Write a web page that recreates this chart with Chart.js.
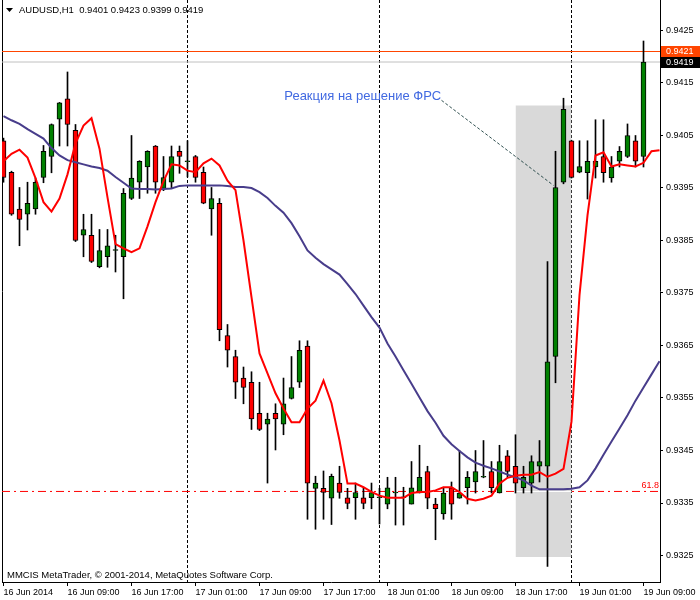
<!DOCTYPE html>
<html><head><meta charset="utf-8">
<script src="https://cdn.jsdelivr.net/npm/chart.js@4/dist/chart.umd.min.js"></script>
<style>html,body{margin:0;padding:0;background:#fff}#wrap{width:700px;height:600px;position:relative}</style>
</head><body><div id="wrap"><canvas id="c" width="700" height="600"></canvas></div>
<script>
// ---- data (AUDUSD H1, 16 Jun 2014 01:00 .. 19 Jun 2014 09:00) ----
const openP  = [0.94040,0.93980,0.93910,0.93900,0.93910,0.93970,0.94010,0.94081,0.94120,0.94060,
  0.93860,0.93860,0.93800,0.93819,0.93831,0.93819,0.93930,0.93961,0.93990,0.94030,
  0.93949,0.93961,0.94020,0.94000,0.94010,0.93980,0.93910,0.93921,0.93669,0.93629,
  0.93588,0.93580,0.93521,0.93500,0.93521,0.93500,0.93549,0.93580,0.93649,0.93378,
  0.93378,0.93359,0.93388,0.93360,0.93360,0.93360,0.93360,0.93360,0.93348,0.93369,
  0.93360,0.93348,0.93369,0.93410,0.93348,0.93329,0.93379,0.93359,0.93379,0.93390,
  0.93399,0.93410,0.93369,0.93440,0.93420,0.93379,0.93388,0.93420,0.93420,0.93629,
  0.93961,0.94040,0.93980,0.93979,0.93990,0.94010,0.93969,0.94001,0.94010,0.94040,0.94010];
const highP  = [0.94045,0.93982,0.93951,0.93961,0.93969,0.94031,0.94072,0.94113,0.94171,0.94071,
  0.93900,0.93900,0.93871,0.93871,0.93860,0.93949,0.94050,0.94002,0.94021,0.94031,
  0.94010,0.94030,0.94030,0.94040,0.94012,0.93990,0.93951,0.93930,0.93690,0.93641,
  0.93609,0.93600,0.93580,0.93521,0.93539,0.93588,0.93629,0.93659,0.93659,0.93401,
  0.93411,0.93405,0.93420,0.93378,0.93388,0.93378,0.93388,0.93378,0.93399,0.93399,
  0.93380,0.93429,0.93460,0.93420,0.93359,0.93380,0.93390,0.93450,0.93410,0.93450,
  0.93469,0.93429,0.93460,0.93450,0.93480,0.93420,0.93440,0.93469,0.93810,0.94020,
  0.94121,0.94041,0.94040,0.94040,0.94080,0.94080,0.94010,0.94029,0.94072,0.94050,0.94230];
const lowP   = [0.93961,0.93898,0.93840,0.93870,0.93900,0.93960,0.93979,0.94030,0.94030,0.93848,
  0.93819,0.93808,0.93798,0.93799,0.93790,0.93739,0.93928,0.93930,0.93940,0.93940,
  0.93945,0.93949,0.93978,0.93971,0.93961,0.93920,0.93860,0.93659,0.93609,0.93549,
  0.93539,0.93490,0.93488,0.93388,0.93451,0.93480,0.93548,0.93570,0.93319,0.93300,
  0.93319,0.93309,0.93359,0.93339,0.93319,0.93339,0.93339,0.93310,0.93339,0.93308,
  0.93308,0.93348,0.93369,0.93339,0.93280,0.93319,0.93319,0.93359,0.93348,0.93369,
  0.93398,0.93369,0.93369,0.93399,0.93369,0.93369,0.93369,0.93390,0.93229,0.93579,
  0.93958,0.93969,0.93979,0.93929,0.93969,0.93961,0.93961,0.93990,0.94008,0.93990,0.93990];
const closeP = [0.93970,0.93900,0.93890,0.93921,0.93961,0.94020,0.94071,0.94112,0.94071,0.93850,
  0.93871,0.93810,0.93831,0.93840,0.93832,0.93940,0.93969,0.94001,0.94020,0.93961,
  0.93970,0.94010,0.94010,0.94001,0.93970,0.93921,0.93930,0.93680,0.93641,0.93580,
  0.93570,0.93510,0.93490,0.93510,0.93510,0.93539,0.93570,0.93641,0.93388,0.93388,
  0.93370,0.93401,0.93370,0.93349,0.93370,0.93349,0.93370,0.93361,0.93379,0.93370,
  0.93361,0.93379,0.93399,0.93359,0.93339,0.93369,0.93348,0.93369,0.93399,0.93410,
  0.93400,0.93379,0.93429,0.93410,0.93388,0.93399,0.93429,0.93429,0.93619,0.93951,
  0.94100,0.93970,0.93991,0.94001,0.94001,0.93979,0.93990,0.94020,0.94050,0.94001,0.94190];
// moving averages (drawn with a 2-bar forward shift, so 83 points)
const redMA  = [0.94001,0.94015,0.94023,0.94008,0.93969,0.93923,0.93905,0.93930,0.93976,0.94035,
  0.94069,0.94083,0.94025,0.93932,0.93843,0.93835,0.93828,0.93835,0.93877,0.93923,
  0.93963,0.93995,0.93993,0.93983,0.93980,0.93997,0.94006,0.93993,0.93964,0.93946,
  0.93850,0.93742,0.93635,0.93597,0.93559,0.93530,0.93504,0.93504,0.93530,0.93545,
  0.93583,0.93540,0.93469,0.93387,0.93387,0.93380,0.93371,0.93364,0.93360,0.93360,
  0.93360,0.93369,0.93371,0.93371,0.93374,0.93380,0.93380,0.93371,0.93358,0.93355,
  0.93358,0.93364,0.93387,0.93398,0.93402,0.93404,0.93404,0.93409,0.93400,0.93406,
  0.93415,0.93505,0.93746,0.93898,0.94012,0.94018,0.93991,0.93995,0.93993,0.93991,
  0.93998,0.94020,0.94022];
const blueMA = [0.94087,0.94079,0.94072,0.94062,0.94053,0.94044,0.94026,0.94012,0.94003,0.93999,
  0.93995,0.93991,0.93988,0.93983,0.93971,0.93960,0.93949,0.93948,0.93948,0.93947,
  0.93948,0.93949,0.93954,0.93955,0.93955,0.93955,0.93955,0.93955,0.93954,0.93952,
  0.93952,0.93950,0.93942,0.93931,0.93916,0.93903,0.93883,0.93858,0.93831,0.93817,
  0.93805,0.93795,0.93785,0.93767,0.93748,0.93726,0.93704,0.93684,0.93654,0.93629,
  0.93603,0.93577,0.93551,0.93525,0.93503,0.93478,0.93462,0.93449,0.93437,0.93427,
  0.93421,0.93416,0.93410,0.93404,0.93399,0.93393,0.93383,0.93376,0.93376,0.93376,
  0.93376,0.93377,0.93380,0.93393,0.93416,0.93442,0.93467,0.93492,0.93517,0.93545,
  0.93570,0.93595,0.93620];
const xTickIndex  = [0,8,16,24,32,40,48,56,64,72,80];
const xTickLabels = ['16 Jun 2014','16 Jun 09:00','16 Jun 17:00','17 Jun 01:00','17 Jun 09:00','17 Jun 17:00',
  '18 Jun 01:00','18 Jun 09:00','18 Jun 17:00','19 Jun 01:00','19 Jun 09:00'];
const yTickValues = [0.9325,0.9335,0.9345,0.9355,0.9365,0.9375,0.9385,0.9395,0.9405,0.9415,0.9425];
const daySeparators = [23,47,71];
const askPrice = 0.9421, bidPrice = 0.9419;
const fiboLevel = 0.93372, fiboLabel = '61.8';
const zoneX = [64,71], zoneY = [0.93247,0.94107];
const noteText = 'Реакция на решение ФРС';
const notePos = [35.1, 0.94124];
const noteLineX = [54.75,68.75], noteLineY = [0.94117,0.93955];
const titleText = 'AUDUSD,H1  0.9401 0.9423 0.9399 0.9419';
const copyrightText = 'MMCIS MetaTrader, \u00A9 2001-2014, MetaQuotes Software Corp.';

// ---- scale setup ----
const PX_PER_UNIT = 52500; // px per price unit at this layout
const yMax = 0.9425 + 30.5 / PX_PER_UNIT;
const yMin = yMax - 582 / PX_PER_UNIT;
const xMin = -0.1875, xMax = xMin + 82.25;

const idx = openP.map((_, i) => i);
const wicks = idx.map(i => ({x: i, y: [lowP[i], highP[i]]}));
const bodies = idx.map(i => ({x: i, y: [Math.min(openP[i], closeP[i]), Math.max(openP[i], closeP[i])]}));
const bodyColors = idx.map(i => closeP[i] >= openP[i] ? '#008000' : '#ff0000');
const maPts = arr => arr.map((v, i) => ({x: i, y: v}));
const hLine = v => [{x: xMin, y: v}, {x: xMax, y: v}];

const FONT = "'Liberation Sans', Arial, sans-serif";
const lineBase = {type: 'line', pointRadius: 0, borderWidth: 1, tension: 0, fill: false, yAxisID: 'y'};

const datasets = [];
daySeparators.forEach(s => datasets.push(Object.assign({}, lineBase, {
  data: [{x: s, y: yMax}, {x: s, y: yMin}], borderColor: '#000', borderDash: [3, 2], order: 20})));
datasets.push(Object.assign({}, lineBase, {data: hLine(fiboLevel), borderColor: '#ff0000', borderDash: [8, 4, 2, 4], order: 19}));
datasets.push(Object.assign({}, lineBase, {data: [{x: zoneX[0], y: zoneY[1]}, {x: zoneX[1], y: zoneY[1]}],
  borderWidth: 0, borderColor: 'rgba(0,0,0,0)', backgroundColor: '#d9d9d9', fill: {value: zoneY[0]}, order: 18}));
datasets.push(Object.assign({}, lineBase, {data: [{x: zoneX[0], y: fiboLevel}, {x: zoneX[1], y: fiboLevel}], borderColor: '#ffffff', order: 17}));
datasets.push(Object.assign({}, lineBase, {data: hLine(askPrice), borderColor: '#ff4500', order: 16}));
datasets.push(Object.assign({}, lineBase, {data: hLine(bidPrice), borderColor: '#c0c0c0', order: 15}));
datasets.push({type: 'bar', data: wicks, backgroundColor: '#000', borderWidth: 0, barThickness: 1, grouped: false, yAxisID: 'y', order: 6});
datasets.push({type: 'bar', data: bodies, backgroundColor: bodyColors, borderColor: '#000', borderWidth: 1, borderSkipped: false,
  barThickness: 5, minBarLength: 1, grouped: false, yAxisID: 'y', order: 5});
datasets.push(Object.assign({}, lineBase, {data: [{x: noteLineX[0], y: noteLineY[0]}, {x: noteLineX[1], y: noteLineY[1]}],
  borderColor: '#2f4f4f', borderDash: [3, 2], order: 4}));
datasets.push(Object.assign({}, lineBase, {data: maPts(blueMA), borderColor: '#483d8b', borderWidth: 2, order: 2}));
datasets.push(Object.assign({}, lineBase, {data: maPts(redMA), borderColor: '#ff0000', borderWidth: 2, order: 1}));

const decor = {
  id: 'decor',
  afterDraw(chart) {
    const ctx = chart.ctx, xs = chart.scales.x, ys = chart.scales.y, ca = chart.chartArea;
    ctx.save();
    ctx.textBaseline = 'middle';
    // title
    ctx.fillStyle = '#000';
    ctx.beginPath(); ctx.moveTo(6, 8); ctx.lineTo(13, 8); ctx.lineTo(9.5, 12); ctx.closePath(); ctx.fill();
    ctx.font = '9.5px ' + FONT; ctx.textAlign = 'left';
    ctx.fillText(titleText, 19, 10);
    // copyright
    ctx.fillText(copyrightText, 7, 575);
    // note text
    ctx.fillStyle = '#4169e1'; ctx.font = '13px ' + FONT;
    ctx.fillText(noteText, xs.getPixelForValue(notePos[0]), ys.getPixelForValue(notePos[1]));
    // fibo label
    ctx.fillStyle = '#ff0000'; ctx.font = '9px ' + FONT; ctx.textAlign = 'right';
    ctx.fillText(fiboLabel, ca.right - 1, ys.getPixelForValue(fiboLevel) - 6);
    // price tags on the axis
    [[askPrice, '#ff4500'], [bidPrice, '#000000']].forEach(([p, col]) => {
      const y = Math.round(ys.getPixelForValue(p));
      ctx.fillStyle = col; ctx.fillRect(ca.right + 1, y - 5, 700 - ca.right - 1, 11);
      ctx.fillStyle = '#fff'; ctx.font = '9px ' + FONT; ctx.textAlign = 'left';
      ctx.fillText(p.toFixed(4), ca.right + 6, y + 0.5);
    });
    ctx.restore();
  }
};

new Chart(document.getElementById('c'), {
  type: 'bar',
  data: {datasets},
  options: {
    responsive: false, animation: false, devicePixelRatio: 1,
    layout: {padding: 0},
    plugins: {legend: {display: false}, tooltip: {enabled: false}},
    scales: {
      y: {
        type: 'linear', position: 'right', min: yMin, max: yMax, beginAtZero: false,
        afterBuildTicks: s => { s.ticks = yTickValues.map(v => ({value: v})); },
        afterFit: s => { s.width = 40; s.paddingTop = 0; s.paddingBottom = 0; },
        ticks: {callback: v => Number(v).toFixed(4), font: {family: FONT, size: 9}, color: '#000', padding: 3, autoSkip: false},
        grid: {drawOnChartArea: false, tickLength: 3, color: '#000'},
        border: {display: true, color: '#000'}
      },
      yl: {
        type: 'linear', position: 'left', min: yMin, max: yMax,
        afterFit: s => { s.width = 2; s.paddingTop = 0; s.paddingBottom = 0; },
        ticks: {display: false}, grid: {drawOnChartArea: false, drawTicks: false},
        border: {display: true, color: '#000'}
      },
      x: {
        type: 'linear', position: 'bottom', min: xMin, max: xMax, offset: false,
        afterBuildTicks: s => { s.ticks = xTickIndex.map(v => ({value: v})); },
        afterFit: s => { s.height = 18; s.paddingLeft = 0; s.paddingRight = 0; },
        ticks: {callback: v => xTickLabels[xTickIndex.indexOf(v)], align: 'start', autoSkip: false, maxRotation: 0,
          font: {family: FONT, size: 9}, color: '#000', padding: 1},
        grid: {drawOnChartArea: false, offset: false, tickLength: 4, color: '#000'},
        border: {display: true, color: '#000'}
      }
    }
  },
  plugins: [decor]
});
</script></body></html>
